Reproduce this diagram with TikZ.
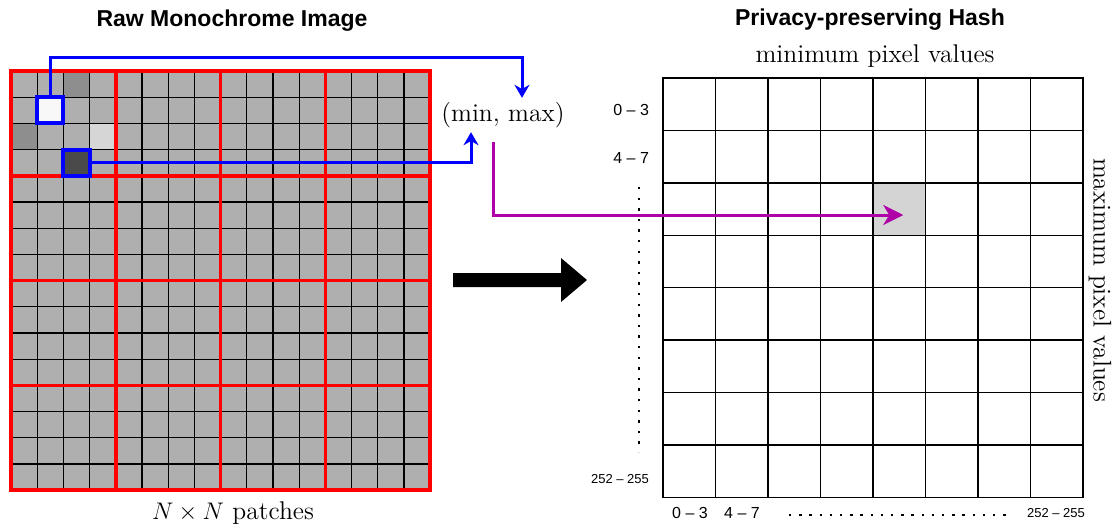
\documentclass[tikz,border=0pt]{standalone}
\usepackage{fontspec}
\setsansfont{Liberation Sans}
\usetikzlibrary{arrows.meta, calc}

\begin{document}
\begin{tikzpicture}[x=0.5pt, y=-0.5pt]
    % Define colours
    \definecolor{cellColour}{HTML}{AFAFAF}
    \definecolor{midColour}{HTML}{8E8E8E}
    \definecolor{lightColour}{HTML}{D6D6D6}
    \definecolor{darkColour}{HTML}{4A4A4A}
    \definecolor{paleColour}{HTML}{F8F8F8}
    \definecolor{linkColour}{HTML}{0000FF}
    \definecolor{hashColour}{HTML}{B000A8}
    \definecolor{hitColour}{HTML}{D4D4D4}

    % Define styles
    \tikzset{
        title/.style={font=\sffamily\bfseries\fontsize{11.5}{13}\selectfont},
        caption/.style={font=\fontsize{12.8}{15}\selectfont},
        binlabel/.style={font=\sffamily\fontsize{8}{9}\selectfont},
        lastbin/.style={font=\sffamily\fontsize{6.5}{8}\selectfont},
        pickbox/.style={draw=linkColour, line width=2pt, minimum size=13.1pt, inner sep=0pt},
        linkarrow/.style={draw=linkColour, line width=1.5pt, -{Stealth[length=6.5pt, width=7.5pt]}},
        hasharrow/.style={draw=hashColour, line width=1.5pt, -{Stealth[length=10pt, width=10pt, inset=3pt]}}
    }

    % Define grid sizes (in pixels)
    \def\imgX{11} \def\imgY{71} \def\imgCell{26.2}
    \def\hashX{663} \def\hashY{78} \def\hashW{52.5} \def\hashH{52.4}

    % Fix the canvas
    \useasboundingbox (0,0) rectangle (1119,531);
    \fill[white] (0,0) rectangle (1119,531);

    % Draw the image pixels
    \fill[cellColour] (\imgX,\imgY) rectangle ++(16*\imgCell,16*\imgCell);

    % Shade a few pixels in the first patch
    \fill[midColour] (\imgX+2*\imgCell,\imgY) rectangle ++(\imgCell,\imgCell);
    \fill[midColour] (\imgX,\imgY+2*\imgCell) rectangle ++(\imgCell,\imgCell);
    \fill[lightColour] (\imgX+3*\imgCell,\imgY+2*\imgCell) rectangle ++(\imgCell,\imgCell);

    % Draw pixel borders
    \foreach \i in {1,...,15} {
        \draw[line width=0.6pt] (\imgX+\i*\imgCell,\imgY) -- ++(0,16*\imgCell);
        \draw[line width=0.6pt] (\imgX,\imgY+\i*\imgCell) -- ++(16*\imgCell,0);
    }

    % Draw patch borders
    \foreach \i in {0,4,...,16} {
        \draw[red, line width=1.8pt, line cap=rect] (\imgX+\i*\imgCell,\imgY) -- ++(0,16*\imgCell);
        \draw[red, line width=1.8pt, line cap=rect] (\imgX,\imgY+\i*\imgCell) -- ++(16*\imgCell,0);
    }

    % Picked pixels
    \node[pickbox, fill=paleColour] (wbox) at (\imgX+1.5*\imgCell,\imgY+1.5*\imgCell) {};
    \node[pickbox, fill=darkColour] (dbox) at (\imgX+2.5*\imgCell,\imgY+3.5*\imgCell) {};

    % Titles and captions
    \node[title] (rawtitle) at (232,21) {Raw Monochrome Image};
    \node[title] (hashtitle) at (870,20) {Privacy-preserving Hash};
    \node[caption] (mintitle) at (875,56) {minimum pixel values};
    \node[caption, rotate=-90] (maxtitle) at (1100,280) {maximum pixel values};
    \node[caption] (patches) at (233,513) {$N \times N$ patches};
    \node[caption, inner sep=2pt] (minmax) at (503,115) {(min, max)};

    % Draw the hash grid
    \node[fill=hitColour, inner sep=0pt, minimum width=26.25pt, minimum height=26.2pt] (hcell)
        at (\hashX+4.5*\hashW,\hashY+2.5*\hashH) {};
    \foreach \i in {0,...,8} {
        \draw[line width=0.7pt, line cap=rect] (\hashX+\i*\hashW,\hashY) -- ++(0,8*\hashH);
        \draw[line width=0.7pt, line cap=rect] (\hashX,\hashY+\i*\hashH) -- ++(8*\hashW,0);
    }

    % Label the bins
    \node[binlabel, anchor=east] (maxfirst) at (656,110) {0 -- 3};
    \node[binlabel, anchor=east] (maxsecond) at (656,158) {4 -- 7};
    \node[lastbin, anchor=east] (maxlast) at (656,479) {252 -- 255};
    \node[binlabel] (minfirst) at (690,513) {0 -- 3};
    \node[binlabel] (minsecond) at (742,513) {4 -- 7};
    \node[lastbin] (minlast) at (1056,513) {252 -- 255};

    % Draw the skipped bins
    \draw[line width=1.2pt, dash pattern=on 1.2pt off 4.1pt] (639,187) -- (639,452);
    \draw[line width=1.2pt, dash pattern=on 1.2pt off 3.9pt] (789,515) -- (1012,515);

    % Draw the links
    \coordinate (bend) at (522,57);
    \draw[linkarrow] (wbox.north) |- (bend) -- (bend |- minmax.north);
    \draw[linkarrow] (dbox.east) -| ([xshift=-16pt]minmax.south);
    \draw[hasharrow] ([xshift=-4.75pt,yshift=-5pt]minmax.south) |- ([xshift=2pt,yshift=-3pt]hcell.center);

    % Draw the big arrow
    \fill (453,273) -- (561,273) -- (561,258) -- (587,280) -- (561,302) -- (561,287) -- (453,287) -- cycle;

\end{tikzpicture}
\end{document}
